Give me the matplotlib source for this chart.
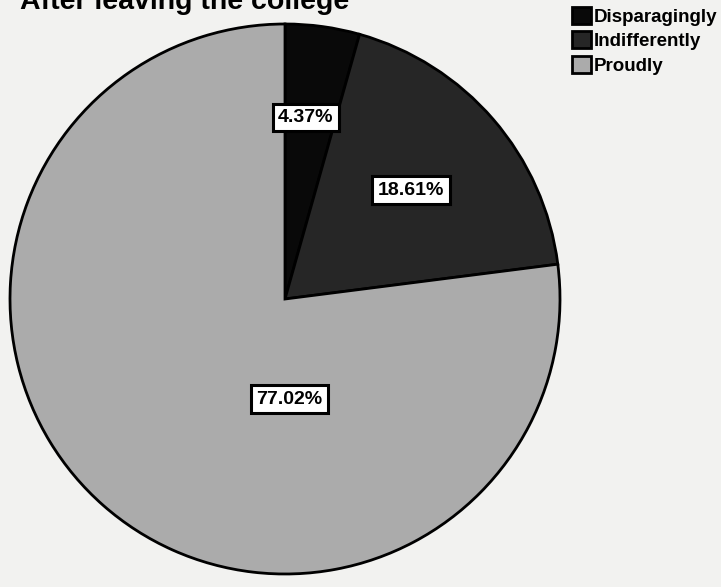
import matplotlib.pyplot as plt

labels = ["Disparagingly", "Indifferently", "Proudly"]
shares = [4.37, 18.61, 77.02]
colors = ["#090909", "#262626", "#ababab"]

plt.rcParams["font.family"] = ["Liberation Sans", "DejaVu Sans"]

fig = plt.figure(figsize=(7.21, 5.87), dpi=100)
fig.patch.set_facecolor("#f2f2f0")

# title is cut off at the top edge in the original scan
fig.text(20 / 721, 1 - 9 / 587, "After leaving the college", fontsize=20.5,
         fontweight="bold", ha="left", va="baseline", zorder=0)

ax = fig.add_axes([10 / 721, 2 / 587, 550 / 721, 572 / 587])
ax.set_aspect("auto")
wedges, texts = ax.pie(shares, colors=colors, startangle=90, counterclock=False,
                       wedgeprops=dict(edgecolor="black", linewidth=2))
ax.set_xlim(-1.0, 1.0)
ax.set_ylim(-1.0, 1.0)

box = dict(boxstyle="square,pad=0.28", facecolor="white", edgecolor="black", linewidth=2.2)
pos = [(0.076, 0.66), (0.458, 0.395), (0.015, -0.364)]
for (x, y), s in zip(pos, shares):
    ax.text(x, y, f"{s:.2f}%", ha="center", va="center", fontsize=14,
            fontweight="bold", bbox=box)

leg = fig.legend(wedges, labels, loc="upper left", bbox_to_anchor=(572 / 721, 1 - 7 / 587),
                 frameon=False, prop={"weight": "bold", "size": 13.5},
                 handlelength=1.0, handleheight=1.0, handletextpad=0.15,
                 labelspacing=0.3, borderaxespad=0, borderpad=0)

fig.savefig("out.png", dpi=100, facecolor=fig.get_facecolor())
